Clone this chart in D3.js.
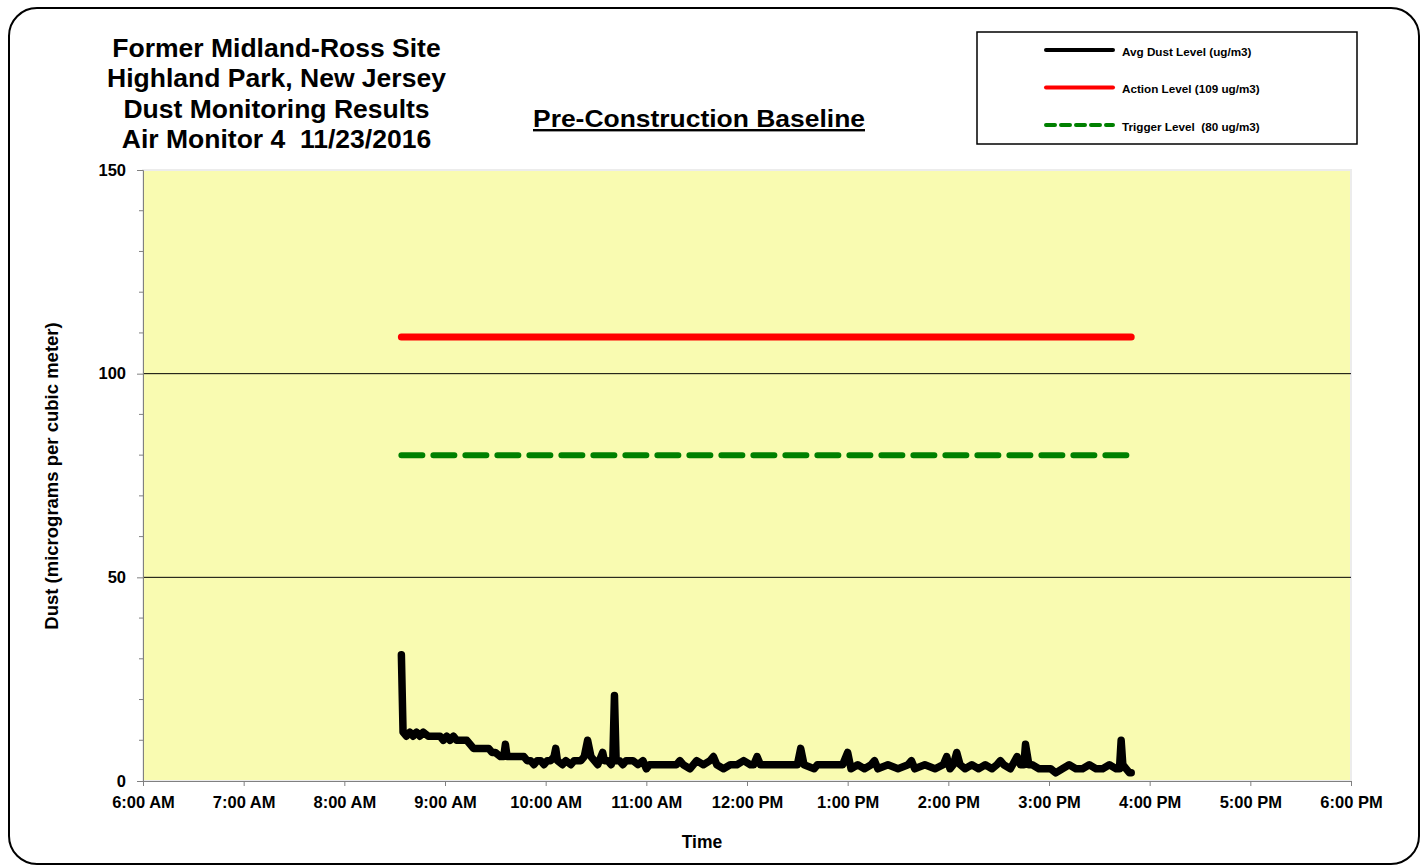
<!DOCTYPE html>
<html>
<head>
  <meta charset="UTF-8">
  <title>Dust Monitoring Results</title>
  <script src="https://cdnjs.cloudflare.com/ajax/libs/d3/7.8.5/d3.min.js"></script>
  <style>
    body { margin: 0; background: #fff; }
    text { font-family: "Liberation Sans", Arial, sans-serif; font-weight: bold; fill: #000; white-space: pre; }
  </style>
</head>
<body>
<script>
    // Avg dust readings, Air Monitor 4, 11/23/2016
    const times = [
      "8:34", "8:35", "8:37", "8:39", "8:41", "8:43", "8:45", "8:47", "8:50", "8:53",
      "8:55", "8:57", "8:59", "9:01", "9:03", "9:05", "9:07", "9:09", "9:11", "9:13",
      "9:15", "9:17", "9:19", "9:21", "9:24", "9:26", "9:28", "9:30", "9:33", "9:35",
      "9:36", "9:37", "9:40", "9:44", "9:47", "9:49", "9:51", "9:53", "9:55", "9:57",
      "9:59", "10:01", "10:03", "10:05", "10:06", "10:07", "10:10", "10:12", "10:15", "10:17",
      "10:19", "10:21", "10:23", "10:25", "10:27", "10:29", "10:31", "10:32", "10:34", "10:35",
      "10:37", "10:39", "10:40", "10:41", "10:42", "10:44", "10:46", "10:48", "10:50", "10:52",
      "10:55", "10:58", "11:00", "11:02", "11:10", "11:18", "11:20", "11:22", "11:26", "11:30",
      "11:34", "11:38", "11:40", "11:42", "11:46", "11:50", "11:54", "11:58", "12:02", "12:04",
      "12:06", "12:08", "12:12", "12:20", "12:30", "12:32", "12:34", "12:40", "12:42", "12:50",
      "12:57", "13:00", "13:02", "13:06", "13:10", "13:14", "13:16", "13:18", "13:24", "13:30",
      "13:36", "13:38", "13:40", "13:46", "13:52", "13:57", "13:59", "14:01", "14:03", "14:05",
      "14:07", "14:10", "14:14", "14:18", "14:22", "14:26", "14:29", "14:31", "14:33", "14:37",
      "14:41", "14:43", "14:45", "14:46", "14:48", "14:50", "14:54", "14:58", "15:01", "15:04",
      "15:08", "15:12", "15:16", "15:20", "15:24", "15:28", "15:32", "15:36", "15:40", "15:42",
      "15:43", "15:44", "15:46", "15:48", "15:49"
    ];
    const dust = [
      31, 12, 11, 12, 11, 12, 11, 12, 11, 11,
      11, 11, 10, 11, 10, 11, 10, 10, 10, 10,
      9, 8, 8, 8, 8, 8, 7, 7, 6, 6,
      9, 6, 6, 6, 6, 5, 5, 4, 5, 5,
      4, 5, 5, 6, 8, 5, 4, 5, 4, 5,
      5, 5, 6, 10, 6, 5, 4, 5, 7, 5,
      5, 4, 5, 21, 5, 5, 4, 5, 5, 5,
      4, 5, 3, 4, 4, 4, 5, 4, 3, 5,
      4, 5, 6, 4, 3, 4, 4, 5, 4, 4,
      6, 4, 4, 4, 4, 8, 4, 3, 4, 4,
      4, 7, 3, 4, 3, 4, 5, 3, 4, 3,
      4, 5, 3, 4, 3, 4, 6, 3, 4, 7,
      4, 3, 4, 3, 4, 3, 4, 5, 4, 3,
      6, 4, 4, 9, 4, 4, 3, 3, 3, 2,
      3, 4, 3, 3, 4, 3, 3, 4, 3, 3,
      10, 4, 3, 2, 2
    ];

    const actionLevel = 109;
    const triggerLevel = 80;
    const levelSpan = ["8:34", "15:49"];

    const xTickLabels = ["6:00 AM", "7:00 AM", "8:00 AM", "9:00 AM", "10:00 AM", "11:00 AM",
      "12:00 PM", "1:00 PM", "2:00 PM", "3:00 PM", "4:00 PM", "5:00 PM", "6:00 PM"];
    const yTicks = [0, 50, 100, 150];
    const yMinor = [10, 20, 30, 40, 60, 70, 80, 90, 110, 120, 130, 140];
    const gridLines = [50, 100];

    const titleLines = ["Former Midland-Ross Site", "Highland Park, New Jersey",
      "Dust Monitoring Results", "Air Monitor 4  11/23/2016"];

    const parse = s => d3.timeParse("%Y-%m-%d %H:%M")("2016-11-23 " + s);
    const series = times.map((t, i) => ({t: parse(t), v: dust[i]}));

    const W = 1422, H = 868;
    const plotL = 143, plotR = 1351, plotT = 170, plotB = 781;

    const svg = d3.select("body").append("svg")
      .attr("width", W).attr("height", H);

    // outer rounded frame
    svg.append("rect")
      .attr("x", 9).attr("y", 8).attr("width", 1410).attr("height", 856)
      .attr("rx", 28).attr("ry", 28)
      .attr("fill", "#fff").attr("stroke", "#000").attr("stroke-width", 2);

    const x = d3.scaleTime()
      .domain([parse("6:00"), parse("18:00")])
      .range([plotL, plotR]);
    const y = d3.scaleLinear().domain([0, 150]).range([plotB, plotT]);

    // plot area
    svg.append("rect")
      .attr("x", plotL).attr("y", plotT)
      .attr("width", plotR - plotL).attr("height", plotB - plotT)
      .attr("fill", "#f9fbb1").attr("stroke", "#ececec").attr("stroke-width", 2);

    svg.selectAll(".grid").data(gridLines).enter().append("line")
      .attr("x1", plotL).attr("x2", plotR)
      .attr("y1", d => y(d)).attr("y2", d => y(d))
      .attr("stroke", "#000").attr("stroke-width", 1);

    // y axis
    const yAxis = svg.append("g")
      .attr("transform", `translate(${plotL},0)`)
      .call(d3.axisLeft(y).tickValues(yTicks).tickSize(6).tickPadding(11));
    yAxis.selectAll(".tick line").attr("stroke", "#808080");
    yAxis.select(".domain").attr("stroke", "#808080");
    yAxis.selectAll(".tick text").attr("font-size", 16.5);
    yAxis.selectAll(".minor").data(yMinor).enter().append("line")
      .attr("class", "minor")
      .attr("x1", -4).attr("x2", 0)
      .attr("y1", d => y(d)).attr("y2", d => y(d))
      .attr("stroke", "#808080");

    // x axis
    const hours = d3.range(6, 19).map(h => parse(h + ":00"));
    const xAxis = svg.append("g")
      .attr("transform", `translate(0,${plotB})`)
      .call(d3.axisBottom(x).tickValues(hours).tickSize(5).tickPadding(8)
        .tickFormat((d, i) => xTickLabels[i]));
    xAxis.selectAll(".tick line").attr("stroke", "#808080");
    xAxis.select(".domain").attr("stroke", "#808080");
    xAxis.selectAll(".tick text").attr("font-size", 16.5).attr("dy", "0.85em");

    // action & trigger levels
    const span = levelSpan.map(parse);
    svg.append("line")
      .attr("x1", x(span[0])).attr("x2", x(span[1]))
      .attr("y1", y(actionLevel)).attr("y2", y(actionLevel))
      .attr("stroke", "#ff0000").attr("stroke-width", 7).attr("stroke-linecap", "round");
    svg.append("line")
      .attr("x1", x(span[0])).attr("x2", x(span[1]))
      .attr("y1", y(triggerLevel)).attr("y2", y(triggerLevel))
      .attr("stroke", "#008000").attr("stroke-width", 6)
      .attr("stroke-dasharray", "21,11").attr("stroke-linecap", "round");

    // dust line
    const line = d3.line().x(d => x(d.t)).y(d => y(d.v));
    svg.append("path")
      .datum(series)
      .attr("d", line)
      .attr("fill", "none").attr("stroke", "#000").attr("stroke-width", 7.5)
      .attr("stroke-linejoin", "round").attr("stroke-linecap", "round");

    // title
    svg.append("g").selectAll("text").data(titleLines).enter().append("text")
      .attr("x", 276.5).attr("y", (d, i) => 57 + i * 30.4)
      .attr("text-anchor", "middle").attr("font-size", 26.5)
      .text(d => d);

    svg.append("text")
      .attr("x", 699).attr("y", 127)
      .attr("text-anchor", "middle")
      .attr("font-family", "'Open Sans', sans-serif").attr("font-weight", 600)
      .attr("font-size", 24).attr("text-decoration", "underline")
      .attr("textLength", 332).attr("lengthAdjust", "spacingAndGlyphs")
      .text("Pre-Construction Baseline");

    // axis titles
    svg.append("text")
      .attr("transform", "translate(58,476) rotate(-90)")
      .attr("text-anchor", "middle").attr("font-size", 18.5)
      .text("Dust (micrograms per cubic meter)");
    svg.append("text")
      .attr("x", 702).attr("y", 848)
      .attr("text-anchor", "middle").attr("font-size", 17.5)
      .text("Time");

    // legend
    const legendItems = [
      {label: "Avg Dust Level (ug/m3)", color: "#000", dash: null},
      {label: "Action Level (109 ug/m3)", color: "#ff0000", dash: null},
      {label: "Trigger Level  (80 ug/m3)", color: "#008000", dash: "9,6"}
    ];
    const lg = svg.append("g");
    lg.append("rect")
      .attr("x", 977).attr("y", 32).attr("width", 380).attr("height", 112)
      .attr("fill", "#fff").attr("stroke", "#000").attr("stroke-width", 1.5);
    const item = lg.selectAll(".item").data(legendItems).enter().append("g")
      .attr("transform", (d, i) => `translate(0,${50 + i * 37.5})`);
    item.append("line")
      .attr("x1", 1046).attr("x2", 1113)
      .attr("stroke", d => d.color).attr("stroke-width", 4)
      .attr("stroke-dasharray", d => d.dash)
      .attr("stroke-linecap", "round");
    item.append("text")
      .attr("x", 1122).attr("y", 5.5)
      .attr("font-size", 11.7)
      .text(d => d.label);
</script>
</body>
</html>
